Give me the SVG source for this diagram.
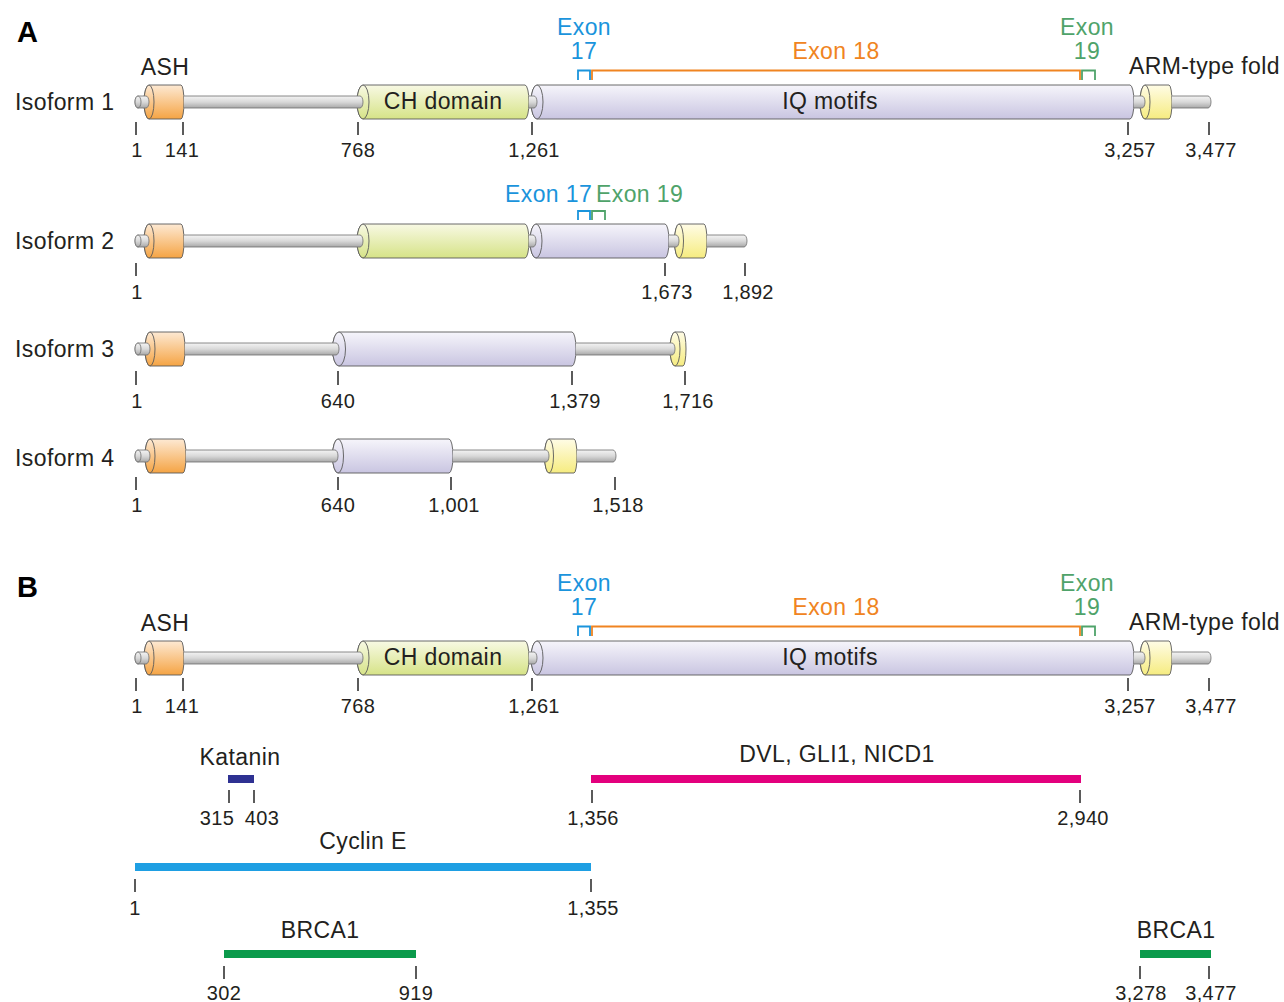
<svg xmlns="http://www.w3.org/2000/svg" width="1284" height="1002" viewBox="0 0 1284 1002">
<style>
text{font-family:"Liberation Sans",Arial,sans-serif;fill:#231f20}
.lbl{font-size:23px;letter-spacing:0.4px}
.num{font-size:20px;text-anchor:middle;letter-spacing:0.3px}
.mid{text-anchor:middle}
.hdr{font-size:29px;font-weight:bold;fill:#000}
.dom{stroke:#5a5a5a;stroke-width:0.9}
.ash{fill:url(#gAsh)}
.ch{fill:url(#gCh)}
.iq{fill:url(#gIq)}
.arm{fill:url(#gArm)}
.rod{fill:url(#gRod);stroke:#6d6d6d;stroke-width:0.8}
.tick{stroke:#333;stroke-width:1.6}
.br{fill:none;stroke-width:1.8}
.blue{fill:#1a94dc}
.orange{fill:#f08421}
.green{fill:#4fa36a}
</style>
<defs>
<linearGradient id="gAsh" x1="0" y1="0" x2="0" y2="1"><stop offset="0" stop-color="#fde9d3"/><stop offset="1" stop-color="#f5a444"/></linearGradient>
<linearGradient id="gCh" x1="0" y1="0" x2="0" y2="1"><stop offset="0" stop-color="#f8f9e4"/><stop offset="1" stop-color="#d6e387"/></linearGradient>
<linearGradient id="gIq" x1="0" y1="0" x2="0" y2="1"><stop offset="0" stop-color="#f6f5fb"/><stop offset="1" stop-color="#c9c5e1"/></linearGradient>
<linearGradient id="gArm" x1="0" y1="0" x2="0" y2="1"><stop offset="0" stop-color="#fffce6"/><stop offset="1" stop-color="#f6ec80"/></linearGradient>
<linearGradient id="gRod" x1="0" y1="0" x2="0" y2="1"><stop offset="0" stop-color="#f4f4f4"/><stop offset="0.5" stop-color="#d9d9d9"/><stop offset="1" stop-color="#a8a8a8"/></linearGradient>
</defs>

<text class="hdr" x="17" y="42">A</text>
<text class="hdr" x="17" y="597">B</text>

<!-- Isoform 1 -->
<g id="isoform1">
<text class="lbl" x="15" y="110">Isoform 1</text>
<text class="lbl mid" x="165" y="75">ASH</text>
<text class="lbl" x="1129" y="74">ARM-type fold</text>
<path class="dom ash" d="M149,85 H181 A3,17 0 0 1 181,119 H149 A5,17 0 0 1 149,85 Z"/><ellipse class="dom ash" cx="149" cy="102" rx="5" ry="17"/>
<path class="dom ch" d="M363,85 H525 A4,17 0 0 1 525,119 H363 A6,17 0 0 1 363,85 Z"/><ellipse class="dom ch" cx="363" cy="102" rx="6" ry="17"/>
<path class="dom iq" d="M537,85 H1130 A4,17 0 0 1 1130,119 H537 A6,17 0 0 1 537,85 Z"/><ellipse class="dom iq" cx="537" cy="102" rx="6" ry="17"/>
<path class="dom arm" d="M1145,85 H1169 A3,17 0 0 1 1169,119 H1145 A5,17 0 0 1 1145,85 Z"/><ellipse class="dom arm" cx="1145" cy="102" rx="5" ry="17"/>
<path class="rod" d="M138,96 H146 A3,6 0 0 1 146,108 H138 A3,6 0 0 1 138,96 Z"/><ellipse class="rod" cx="138" cy="102" rx="3" ry="6"/>
<path class="rod" d="M184,96 H360 A3,6 0 0 1 360,108 H184"/>
<path class="rod" d="M529,96 H534 A3,6 0 0 1 534,108 H529"/>
<path class="rod" d="M1134,96 H1142 A3,6 0 0 1 1142,108 H1134"/>
<path class="rod" d="M1172,96 H1208 A3,6 0 0 1 1208,108 H1172"/>
<text class="lbl mid" x="443" y="109">CH domain</text>
<text class="lbl mid" x="830" y="109">IQ motifs</text>
<text class="lbl mid blue" x="584" y="35">Exon</text><text class="lbl mid blue" x="584" y="59">17</text>
<text class="lbl mid orange" x="836" y="59">Exon 18</text>
<text class="lbl mid green" x="1087" y="35">Exon</text><text class="lbl mid green" x="1087" y="59">19</text>
<path class="br" stroke="#1a94dc" d="M578,80 V70.5 H590 V80"/>
<path class="br" stroke="#f08421" d="M592,80 V70.5 H1080 V80"/>
<path class="br" stroke="#4fa36a" d="M1082,80 V70.5 H1095 V80"/>
<path class="tick" d="M136,122V135M183,122V135M358,122V135M532,122V135M1128,122V135M1209,122V135"/>
<text class="num" x="137" y="157">1</text><text class="num" x="182" y="157">141</text><text class="num" x="358" y="157">768</text><text class="num" x="534" y="157">1,261</text><text class="num" x="1130" y="157">3,257</text><text class="num" x="1211" y="157">3,477</text>
</g>

<!-- Isoform 2 -->
<g id="isoform2">
<text class="lbl" x="15" y="249">Isoform 2</text>
<path class="dom ash" d="M149,224 H181 A3,17 0 0 1 181,258 H149 A5,17 0 0 1 149,224 Z"/><ellipse class="dom ash" cx="149" cy="241" rx="5" ry="17"/>
<path class="dom ch" d="M363,224 H525 A4,17 0 0 1 525,258 H363 A6,17 0 0 1 363,224 Z"/><ellipse class="dom ch" cx="363" cy="241" rx="6" ry="17"/>
<path class="dom iq" d="M536,224 H665 A4,17 0 0 1 665,258 H536 A6,17 0 0 1 536,224 Z"/><ellipse class="dom iq" cx="536" cy="241" rx="6" ry="17"/>
<path class="dom arm" d="M679,224 H704 A3,17 0 0 1 704,258 H679 A4.5,17 0 0 1 679,224 Z"/><ellipse class="dom arm" cx="679" cy="241" rx="4.5" ry="17"/>
<path class="rod" d="M138,235 H146 A3,6 0 0 1 146,247 H138 A3,6 0 0 1 138,235 Z"/><ellipse class="rod" cx="138" cy="241" rx="3" ry="6"/>
<path class="rod" d="M184,235 H360 A3,6 0 0 1 360,247 H184"/>
<path class="rod" d="M529,235 H533 A3,6 0 0 1 533,247 H529"/>
<path class="rod" d="M669,235 H676 A3,6 0 0 1 676,247 H669"/>
<path class="rod" d="M707,235 H744 A3,6 0 0 1 744,247 H707"/>
<text class="lbl blue" x="505" y="202">Exon 17</text><text class="lbl green" x="596" y="202">Exon 19</text>
<path class="br" stroke="#1a94dc" d="M578,220 V211 H590 V220"/>
<path class="br" stroke="#4fa36a" d="M592,220 V211 H605 V220"/>
<path class="tick" d="M136,263V276M665,263V276M745,263V276"/>
<text class="num" x="137" y="299">1</text><text class="num" x="667" y="299">1,673</text><text class="num" x="748" y="299">1,892</text>
</g>

<!-- Isoform 3 -->
<g id="isoform3">
<text class="lbl" x="15" y="357">Isoform 3</text>
<path class="dom ash" d="M150,332 H182 A3,17 0 0 1 182,366 H150 A5,17 0 0 1 150,332 Z"/><ellipse class="dom ash" cx="150" cy="349" rx="5" ry="17"/>
<path class="dom iq" d="M339,332 H572 A4,17 0 0 1 572,366 H339 A6.5,17 0 0 1 339,332 Z"/><ellipse class="dom iq" cx="339" cy="349" rx="6.5" ry="17"/>
<path class="dom arm" d="M675,332 H683 A3,17 0 0 1 683,366 H675 A5,17 0 0 1 675,332 Z"/><ellipse class="dom arm" cx="675" cy="349" rx="5" ry="17"/>
<path class="rod" d="M138,343 H147 A3,6 0 0 1 147,355 H138 A3,6 0 0 1 138,343 Z"/><ellipse class="rod" cx="138" cy="349" rx="3" ry="6"/>
<path class="rod" d="M185,343 H336 A3,6 0 0 1 336,355 H185"/>
<path class="rod" d="M576,343 H672 A3,6 0 0 1 672,355 H576"/>
<path class="tick" d="M136,371V385M338,371V385M572,371V385M685,371V385"/>
<text class="num" x="137" y="408">1</text><text class="num" x="338" y="408">640</text><text class="num" x="575" y="408">1,379</text><text class="num" x="688" y="408">1,716</text>
</g>

<!-- Isoform 4 -->
<g id="isoform4">
<text class="lbl" x="15" y="466">Isoform 4</text>
<path class="dom ash" d="M150,439 H183 A3,17 0 0 1 183,473 H150 A5,17 0 0 1 150,439 Z"/><ellipse class="dom ash" cx="150" cy="456" rx="5" ry="17"/>
<path class="dom iq" d="M338,439 H449 A4,17 0 0 1 449,473 H338 A5.5,17 0 0 1 338,439 Z"/><ellipse class="dom iq" cx="338" cy="456" rx="5.5" ry="17"/>
<path class="dom arm" d="M549,439 H574 A3,17 0 0 1 574,473 H549 A4.5,17 0 0 1 549,439 Z"/><ellipse class="dom arm" cx="549" cy="456" rx="4.5" ry="17"/>
<path class="rod" d="M138,450 H147 A3,6 0 0 1 147,462 H138 A3,6 0 0 1 138,450 Z"/><ellipse class="rod" cx="138" cy="456" rx="3" ry="6"/>
<path class="rod" d="M186,450 H335 A3,6 0 0 1 335,462 H186"/>
<path class="rod" d="M453,450 H546 A3,6 0 0 1 546,462 H453"/>
<path class="rod" d="M577,450 H613 A3,6 0 0 1 613,462 H577"/>
<path class="tick" d="M136,477V490M338,477V490M451,477V490M615,477V490"/>
<text class="num" x="137" y="512">1</text><text class="num" x="338" y="512">640</text><text class="num" x="454" y="512">1,001</text><text class="num" x="618" y="512">1,518</text>
</g>

<!-- Section B protein -->
<g id="proteinB">
<text class="lbl mid" x="165" y="631">ASH</text>
<text class="lbl" x="1129" y="630">ARM-type fold</text>
<path class="dom ash" d="M149,641 H181 A3,17 0 0 1 181,675 H149 A5,17 0 0 1 149,641 Z"/><ellipse class="dom ash" cx="149" cy="658" rx="5" ry="17"/>
<path class="dom ch" d="M363,641 H525 A4,17 0 0 1 525,675 H363 A6,17 0 0 1 363,641 Z"/><ellipse class="dom ch" cx="363" cy="658" rx="6" ry="17"/>
<path class="dom iq" d="M537,641 H1130 A4,17 0 0 1 1130,675 H537 A6,17 0 0 1 537,641 Z"/><ellipse class="dom iq" cx="537" cy="658" rx="6" ry="17"/>
<path class="dom arm" d="M1145,641 H1169 A3,17 0 0 1 1169,675 H1145 A5,17 0 0 1 1145,641 Z"/><ellipse class="dom arm" cx="1145" cy="658" rx="5" ry="17"/>
<path class="rod" d="M138,652 H146 A3,6 0 0 1 146,664 H138 A3,6 0 0 1 138,652 Z"/><ellipse class="rod" cx="138" cy="658" rx="3" ry="6"/>
<path class="rod" d="M184,652 H360 A3,6 0 0 1 360,664 H184"/>
<path class="rod" d="M529,652 H534 A3,6 0 0 1 534,664 H529"/>
<path class="rod" d="M1134,652 H1142 A3,6 0 0 1 1142,664 H1134"/>
<path class="rod" d="M1172,652 H1208 A3,6 0 0 1 1208,664 H1172"/>
<text class="lbl mid" x="443" y="665">CH domain</text>
<text class="lbl mid" x="830" y="665">IQ motifs</text>
<text class="lbl mid blue" x="584" y="591">Exon</text><text class="lbl mid blue" x="584" y="615">17</text>
<text class="lbl mid orange" x="836" y="615">Exon 18</text>
<text class="lbl mid green" x="1087" y="591">Exon</text><text class="lbl mid green" x="1087" y="615">19</text>
<path class="br" stroke="#1a94dc" d="M578,636 V626.5 H590 V636"/>
<path class="br" stroke="#f08421" d="M592,636 V626.5 H1080 V636"/>
<path class="br" stroke="#4fa36a" d="M1082,636 V626.5 H1095 V636"/>
<path class="tick" d="M136,678V691M183,678V691M358,678V691M532,678V691M1128,678V691M1209,678V691"/>
<text class="num" x="137" y="713">1</text><text class="num" x="182" y="713">141</text><text class="num" x="358" y="713">768</text><text class="num" x="534" y="713">1,261</text><text class="num" x="1130" y="713">3,257</text><text class="num" x="1211" y="713">3,477</text>
</g>

<g id="katanin">
<text class="lbl mid" x="240" y="765">Katanin</text>
<rect x="228" y="775" width="26" height="8" fill="#2e3192"/>
<path class="tick" d="M229,790V803M254,790V803"/>
<text class="num" x="217" y="825">315</text><text class="num" x="262" y="825">403</text>
</g>
<g id="dvl">
<text class="lbl mid" x="837" y="762">DVL, GLI1, NICD1</text>
<rect x="591" y="775" width="490" height="8" fill="#e3007d"/>
<path class="tick" d="M592,790V803M1080,790V803"/>
<text class="num" x="593" y="825">1,356</text><text class="num" x="1083" y="825">2,940</text>
</g>
<g id="cyclinE">
<text class="lbl mid" x="363" y="849">Cyclin E</text>
<rect x="135" y="863" width="456" height="8" fill="#1e9fe3"/>
<path class="tick" d="M135,879V892M591,879V892"/>
<text class="num" x="135" y="915">1</text><text class="num" x="593" y="915">1,355</text>
</g>
<g id="brca1a">
<text class="lbl mid" x="320" y="938">BRCA1</text>
<rect x="224" y="950" width="192" height="8" fill="#0b9a4b"/>
<path class="tick" d="M224,966V979M416,966V979"/>
<text class="num" x="224" y="1000">302</text><text class="num" x="416" y="1000">919</text>
</g>
<g id="brca1b">
<text class="lbl mid" x="1176" y="938">BRCA1</text>
<rect x="1140" y="950" width="71" height="8" fill="#0b9a4b"/>
<path class="tick" d="M1140,966V979M1209,966V979"/>
<text class="num" x="1141" y="1000">3,278</text><text class="num" x="1211" y="1000">3,477</text>
</g>
</svg>
